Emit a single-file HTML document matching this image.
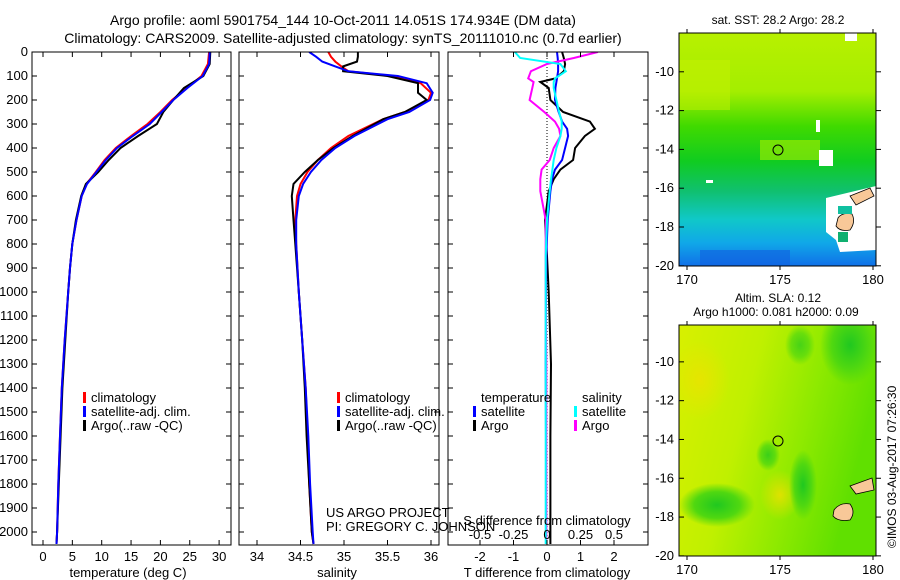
<!DOCTYPE html>
<html><head><meta charset="utf-8">
<style>
html,body{margin:0;padding:0;background:#fff;}
svg{display:block;font-family:"Liberation Sans",sans-serif;}
</style></head>
<body>
<svg id="chart" width="900" height="580" viewBox="0 0 900 580">
<defs>
<linearGradient id="sstg" x1="0" y1="0" x2="0" y2="1">
<stop offset="0" stop-color="#b8f000"/><stop offset="0.25" stop-color="#a4ee00"/>
<stop offset="0.4" stop-color="#40da00"/><stop offset="0.55" stop-color="#10cc20"/>
<stop offset="0.68" stop-color="#10c070"/><stop offset="0.8" stop-color="#10c8c8"/>
<stop offset="0.9" stop-color="#10a8e8"/><stop offset="1" stop-color="#1070e8"/>
</linearGradient>
<linearGradient id="slag" x1="0" y1="0" x2="1" y2="0.3">
<stop offset="0" stop-color="#d8f000"/><stop offset="0.4" stop-color="#c0f000"/>
<stop offset="0.7" stop-color="#90ea00"/><stop offset="1" stop-color="#60e000"/>
</linearGradient>
<radialGradient id="greenblob"><stop offset="0" stop-color="#20c820"/><stop offset="0.6" stop-color="#50d810"/><stop offset="1" stop-color="#50d810" stop-opacity="0"/></radialGradient>
<radialGradient id="yellowblob"><stop offset="0" stop-color="#f0e000"/><stop offset="1" stop-color="#f0e000" stop-opacity="0"/></radialGradient>
<clipPath id="c1"><rect x="32" y="52" width="199" height="493"/></clipPath>
<clipPath id="c2"><rect x="239" y="52" width="200" height="493"/></clipPath>
<clipPath id="c3"><rect x="448" y="52" width="200" height="493"/></clipPath>
<clipPath id="m1"><rect x="679" y="33" width="197" height="233"/></clipPath>
<clipPath id="m2"><rect x="679" y="325" width="197" height="231"/></clipPath>
</defs>

<text x="343" y="25" font-size="14" text-anchor="middle">Argo profile: aoml 5901754_144 10-Oct-2011 14.051S 174.934E (DM data)</text>
<text x="343" y="43" font-size="14" text-anchor="middle">Climatology: CARS2009. Satellite-adjusted climatology: synTS_20111010.nc (0.7d earlier)</text>

<g id="p1"></g>
<g id="p2"></g>
<g id="p3"></g>

<!-- SST map -->
<g clip-path="url(#m1)">
<rect x="679" y="33" width="197" height="233" fill="url(#sstg)"/>
<rect x="680" y="60" width="50" height="50" fill="#c8f000" opacity="0.5"/>
<rect x="760" y="140" width="60" height="20" fill="#a8ec00" opacity="0.6"/>
<rect x="700" y="250" width="90" height="16" fill="#1060e0" opacity="0.6"/>
<rect x="845" y="33" width="12" height="8" fill="#fff"/>
<rect x="816" y="120" width="4" height="12" fill="#fff"/>
<rect x="819" y="150" width="14" height="16" fill="#fff"/>
<rect x="706" y="180" width="7" height="3" fill="#fff"/>
<path d="M826 198 L876 186 L876 250 L840 252 L836 240 L826 232 Z" fill="#fff"/>
<path d="M850 196 L870 188 L874 196 L856 205 Z" fill="#f8c898" stroke="#000" stroke-width="0.8"/>
<path d="M838 218 Q842 212 852 214 Q856 222 850 230 Q840 232 836 226 Z" fill="#f8c898" stroke="#000" stroke-width="0.8"/>
<rect x="838" y="206" width="14" height="8" fill="#10c0a0"/>
<rect x="838" y="232" width="10" height="10" fill="#10b070"/>
<circle cx="778" cy="150" r="5" fill="none" stroke="#000"/>
</g>
<rect x="679" y="33" width="197" height="233" fill="none" stroke="#000"/>
<text x="778" y="24" font-size="12" text-anchor="middle">sat. SST: 28.2 Argo: 28.2</text>

<!-- SLA map -->
<g clip-path="url(#m2)">
<rect x="679" y="325" width="197" height="231" fill="url(#slag)"/>
<ellipse cx="700" cy="380" rx="30" ry="40" fill="url(#yellowblob)" opacity="0.7"/>
<ellipse cx="780" cy="495" rx="20" ry="25" fill="url(#yellowblob)" opacity="0.8"/>
<ellipse cx="850" cy="345" rx="30" ry="40" fill="url(#greenblob)"/>
<ellipse cx="800" cy="345" rx="15" ry="20" fill="url(#greenblob)" opacity="0.7"/>
<ellipse cx="717" cy="505" rx="38" ry="22" fill="url(#greenblob)"/>
<ellipse cx="803" cy="485" rx="14" ry="35" fill="url(#greenblob)"/>
<ellipse cx="768" cy="455" rx="12" ry="16" fill="url(#greenblob)" opacity="0.8"/>
<path d="M850 486 L872 478 L874 490 L856 494 Z" fill="#f8c898" stroke="#000" stroke-width="0.8"/>
<path d="M834 510 Q840 502 850 504 Q856 512 850 520 Q838 522 833 516 Z" fill="#f8c898" stroke="#000" stroke-width="0.8"/>
<circle cx="778" cy="441" r="5" fill="none" stroke="#000"/>
</g>
<rect x="679" y="325" width="197" height="231" fill="none" stroke="#000"/>
<text x="778" y="302" font-size="12" text-anchor="middle">Altim. SLA: 0.12</text>
<text x="776" y="316" font-size="12" text-anchor="middle">Argo h1000: 0.081 h2000: 0.09</text>
<text transform="translate(896,548) rotate(-90)" font-size="12">©IMOS 03-Aug-2017 07:26:30</text>
<g id="maxes"></g>

<script>
// ---- data ----
const depthTicks = [0,100,200,300,400,500,600,700,800,900,1000,1100,1200,1300,1400,1500,1600,1700,1800,1900,2000];
const tempTicks = [0,5,10,15,20,25,30];
const salTicks = [34,34.5,35,35.5,36];
const salTickLabels = ["34","34.5","35","35.5","36"];
const tdTicks = [-2,-1,0,1,2];
const sdTicks = [-0.5,-0.25,0,0.25,0.5];
const sdTickLabels = ["-0.5","-0.25","0","0.25","0.5"];

const tDepth = [0,50,100,150,200,250,300,350,400,450,500,550,600,700,800,900,1000,1200,1400,1600,1800,2000,2050];
const tClim  = [28.3,28.1,27.0,24.5,22.0,20.0,17.8,15.0,12.4,10.5,9.0,7.4,6.6,5.7,5.0,4.6,4.3,3.7,3.2,2.9,2.6,2.4,2.3];
const tSat   = [28.4,28.3,27.2,24.6,22.2,20.2,18.2,15.3,12.6,10.7,9.1,7.5,6.6,5.7,5.0,4.6,4.3,3.7,3.2,2.9,2.6,2.4,2.3];
const tArgo  = [28.5,28.4,27.3,24.0,22.2,20.5,19.4,16.2,13.2,11.2,9.4,7.3,6.5,5.6,5.0,4.6,4.3,3.8,3.3,3.0,2.7,2.4,2.3];

const sDepth = [0,20,40,60,80,100,130,170,200,250,280,350,400,450,500,550,600,700,800,1000,1200,1400,1600,1800,2000,2050];
const sClim  = [34.82,34.85,34.9,34.97,35.05,35.55,35.88,36.0,35.97,35.7,35.45,35.05,34.85,34.7,34.58,34.5,34.46,34.44,34.45,34.48,34.52,34.56,34.58,34.6,34.63,34.65];
const sSat   = [34.6,34.68,34.75,34.9,35.05,35.62,35.95,36.02,35.99,35.75,35.5,35.12,34.9,34.74,34.62,34.53,34.48,34.45,34.45,34.48,34.52,34.56,34.59,34.61,34.64,34.65];
const sArgo  = [35.16,35.16,35.15,34.99,34.99,35.5,35.85,35.85,35.95,35.7,35.45,35.1,34.88,34.7,34.55,34.42,34.4,34.42,34.44,34.48,34.52,34.55,34.57,34.6,34.63,34.65];

const dDepth = [0,25,50,80,110,125,150,200,250,290,320,350,400,450,490,530,580,700,850,1000,1300,1600,2000,2050];
const tdSat  = [0.3,0.32,0.33,0.33,0.3,0.28,0.25,0.24,0.35,0.45,0.6,0.63,0.54,0.45,0.24,0.15,0.1,0.02,-0.02,-0.03,-0.04,-0.03,-0.03,-0.03];
const tdArgo = [0.45,0.5,0.54,0.5,0.25,-0.2,0.05,0.1,0.48,1.28,1.43,1.13,0.84,0.78,0.4,0.2,0.05,-0.06,0.0,0.05,0.12,0.1,0.1,0.1];
const sdSat  = [-0.24,-0.2,0.1,0.14,0.06,0.05,0.05,0.07,0.09,0.11,0.11,0.1,0.07,0.05,0.04,0.03,0.02,0.0,-0.01,-0.01,-0.01,-0.01,-0.01,-0.01];
const sdArgo = [0.38,0.2,0.0,-0.12,-0.14,-0.1,-0.11,-0.13,-0.02,0.06,0.09,0.1,0.05,0.02,-0.04,-0.05,-0.05,-0.01,-0.01,-0.01,-0.005,-0.005,-0.005,-0.005];

const latTicks = [-10,-12,-14,-16,-18,-20];
const lonTicks = [170,175,180];

// ---- helpers ----
const NS = "http://www.w3.org/2000/svg";
function mk(parent, tag, attrs){ const e=document.createElementNS(NS,tag); for(const k in attrs) e.setAttribute(k,attrs[k]); parent.appendChild(e); return e; }
const yD = d => 52 + d*0.24;
const xT = v => 43 + v*5.87;
const xS = v => 257 + (v-34)*87;
const xTD = v => 547 + v*33.5;
const xSD = v => 547 + v*134;
const FS = 13;

function frame(g, x0, x1, name){
  const r = mk(g,'rect',{x:x0,y:52,width:x1-x0,height:493,fill:'none',stroke:'#000'});
  
  
}
function depthTicksDraw(g, x0, x1, labels){
  depthTicks.forEach(d=>{
    const y=yD(d);
    mk(g,'line',{x1:x0,x2:x0+5,y1:y,y2:y,stroke:'#000'});
    mk(g,'line',{x1:x1-5,x2:x1,y1:y,y2:y,stroke:'#000'});
    if(labels){
      const t=mk(g,'text',{x:x0-4,y:y+4,'font-size':FS,'text-anchor':'end'});
      t.textContent=d;
      
      
    }
  });
}
function xTicks(g, ticks, labels, fx, y, top){
  ticks.forEach((v,i)=>{
    const x=fx(v);
    mk(g,'line',{x1:x,x2:x,y1:545,y2:540,stroke:'#000'});
    if(top) mk(g,'line',{x1:x,x2:x,y1:52,y2:57,stroke:'#000'});
    const t=mk(g,'text',{x:x,y:y,'font-size':FS,'text-anchor':'middle'});
    t.textContent=labels[i];
    
    
  });
}
function line(g, xs, ds, fx, color, w, clip, name){
  const pts = ds.map((d,i)=> fx(xs[i]).toFixed(1)+','+yD(d).toFixed(1)).join(' ');
  const p = mk(g,'polyline',{points:pts,fill:'none',stroke:color,'stroke-width':w,'clip-path':'url(#'+clip+')'});
  
  
}
function label(g,x,y,txt,name,anchor){
  const t=mk(g,'text',{x:x,y:y,'font-size':FS,'text-anchor':anchor||'start'});
  t.textContent=txt;
  
  
}
function legendEntry(g,x,y,color,txt){
  const r=mk(g,'rect',{x:x,y:y-10,width:3,height:11,fill:color});
  
  
  label(g,x+8,y,txt,'legend-entry');
}

// ---- panel 1: temperature ----
const p1=document.getElementById('p1');
line(p1,tClim,tDepth,xT,'#f00',2,'c1','temp-climatology-line');
line(p1,tArgo,tDepth,xT,'#000',2,'c1','temp-argo-line');
line(p1,tSat,tDepth,xT,'#00f',2,'c1','temp-satellite-line');
frame(p1,32,231,'temperature-frame');
depthTicksDraw(p1,32,231,true);
xTicks(p1,tempTicks,tempTicks.map(String),xT,561,true);
label(p1,128,577,'temperature (deg C)','temperature-axis-title','middle');
legendEntry(p1,83,402,'#f00','climatology');
legendEntry(p1,83,416,'#00f','satellite-adj. clim.');
legendEntry(p1,83,430,'#000','Argo(..raw -QC)');

// ---- panel 2: salinity ----
const p2=document.getElementById('p2');
line(p2,sClim,sDepth,xS,'#f00',2,'c2','sal-climatology-line');
line(p2,sArgo,sDepth,xS,'#000',2,'c2','sal-argo-line');
line(p2,sSat,sDepth,xS,'#00f',2,'c2','sal-satellite-line');
frame(p2,239,439,'salinity-frame');
depthTicksDraw(p2,239,439,false);
xTicks(p2,salTicks,salTickLabels,xS,561,true);
label(p2,337,577,'salinity','salinity-axis-title','middle');
legendEntry(p2,337,402,'#f00','climatology');
legendEntry(p2,337,416,'#00f','satellite-adj. clim.');
legendEntry(p2,337,430,'#000','Argo(..raw -QC)');
label(p2,326,517,'US ARGO PROJECT','project-label');
label(p2,326,531,'PI: GREGORY C. JOHNSON','pi-label');

// ---- panel 3: differences ----
const p3=document.getElementById('p3');
const zl=mk(p3,'line',{x1:547,x2:547,y1:52,y2:545,stroke:'#000','stroke-dasharray':'1,2'});


line(p3,tdArgo,dDepth,xTD,'#000',2,'c3','tdiff-argo-line');
line(p3,tdSat,dDepth,xTD,'#00f',2,'c3','tdiff-satellite-line');
line(p3,sdArgo,dDepth,xSD,'#f0f',2,'c3','sdiff-argo-line');
line(p3,sdSat,dDepth,xSD,'#0ff',2,'c3','sdiff-satellite-line');
frame(p3,448,648,'difference-frame');
depthTicksDraw(p3,448,648,false);
xTicks(p3,tdTicks,tdTicks.map(String),xTD,561,true);
sdTicks.forEach((v,i)=>{ label(p3,xSD(v),539,sdTickLabels[i],'s-diff-tick-label','middle'); });
label(p3,547,525,'S difference from climatology','s-diff-axis-title','middle');
label(p3,547,577,'T difference from climatology','t-diff-axis-title','middle');
label(p3,481,402,'temperature','legend-temperature-header');
label(p3,582,402,'salinity','legend-salinity-header');
legendEntry(p3,473,416,'#00f','satellite');
legendEntry(p3,473,430,'#000','Argo');
legendEntry(p3,574,416,'#0ff','satellite');
legendEntry(p3,574,430,'#f0f','Argo');

// ---- map axes ----
const ma=document.getElementById('maxes');
const xLon = v => 687 + (v-170)*18.6;
function mapAxes(top, bottom, lat0){
  const yLat = v => top + (lat0 - v)*19.4;
  latTicks.forEach(v=>{
    const y=yLat(v);
    mk(ma,'line',{x1:679,x2:684,y1:y,y2:y,stroke:'#000'});
    mk(ma,'line',{x1:876,x2:881,y1:y,y2:y,stroke:'#000'});
    label(ma,674,y+4,String(v),'lat-tick-label','end');
  });
  lonTicks.forEach(v=>{
    const x=xLon(v);
    mk(ma,'line',{x1:x,x2:x,y1:top,y2:top-4,stroke:'#000'});
    mk(ma,'line',{x1:x,x2:x,y1:bottom,y2:bottom+4,stroke:'#000'});
    label(ma,x,bottom+18,String(v),'lon-tick-label','middle');
  });
}
mapAxes(33,266,-8);
mapAxes(325,556,-8.1);
</script>
</svg>
</body></html>
